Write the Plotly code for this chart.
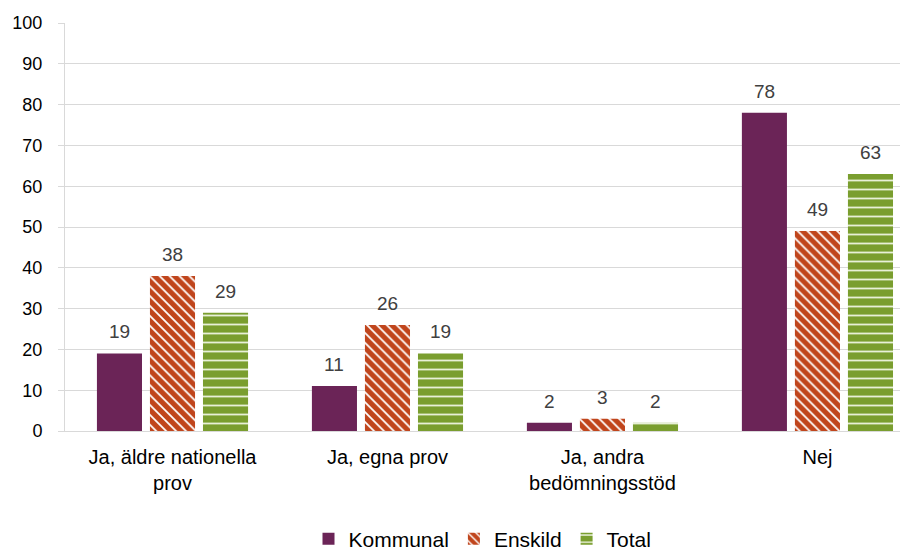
import plotly.graph_objects as go

categories = ["Ja, äldre nationella<br>prov", "Ja, egna prov", "Ja, andra<br>bedömningsstöd", "Nej"]
kommunal = [19, 11, 2, 78]
enskild = [38, 26, 3, 49]
total = [29, 19, 2, 63]
y_ticks = [0, 10, 20, 30, 40, 50, 60, 70, 80, 90, 100]

FONT = "Liberation Sans, Arial, sans-serif"
W, H = 913, 550
ML, MR, MT, MB = 65, 13, 23, 119
BARGAP, GROUPGAP = 0.26, 0.15
X_RANGE = [-0.5, 3.384]

fig = go.Figure()
series = [
    ("Kommunal", kommunal, dict(color="#6B2457", line=dict(width=0))),
    ("Enskild", enskild, dict(color="#C0451C", line=dict(width=0),
                              pattern=dict(shape="\\", fgcolor="#FFFFFF", bgcolor="#C0451C",
                                           size=7, solidity=0.25, fillmode="replace"))),
    ("Total", total, dict(color="#7A9E2F", line=dict(width=0),
                          pattern=dict(shape="-", fgcolor="#E8F0D8", bgcolor="#7A9E2F",
                                       size=9, solidity=0.2, fillmode="replace"))),
]
for name, vals, marker in series:
    fig.add_trace(go.Bar(name=name, x=categories, y=vals, marker=marker))

# value labels above bars, offset to each bar's slot within the group
plot_w = W - ML - MR
unit_px = plot_w / (X_RANGE[1] - X_RANGE[0])
slot = unit_px * (1 - BARGAP) / len(series)
for si, (name, vals, _) in enumerate(series):
    off = (si - (len(series) - 1) / 2) * slot
    for ci, v in enumerate(vals):
        fig.add_annotation(x=ci, y=v, text=str(v), showarrow=False,
                           xref="x", yref="y", xshift=off, yshift=9, yanchor="bottom",
                           font=dict(color="#404040", size=19, family=FONT))

fig.update_layout(
    width=W, height=H,
    margin=dict(l=ML, r=MR, t=MT, b=MB, autoexpand=False),
    paper_bgcolor="white", plot_bgcolor="white",
    barmode="group", bargap=BARGAP, bargroupgap=GROUPGAP,
    font=dict(family=FONT, size=19, color="#000000"),
    legend=dict(orientation="h", x=0.5, xanchor="center",
                yref="container", y=(H - 539) / H, yanchor="middle",
                font=dict(size=21, color="#000000"), traceorder="normal"),
    showlegend=True,
)
fig.update_yaxes(
    range=[0, 100], tickvals=y_ticks, showgrid=True, gridcolor="#D9D9D9", gridwidth=1,
    showline=True, linecolor="#D9D9D9", linewidth=1,
    ticks="outside", ticklen=6, tickcolor="#D9D9D9", ticklabelstandoff=12,
    tickfont=dict(size=18, color="#000000"), zeroline=False, automargin=False,
)
fig.update_xaxes(
    range=X_RANGE,
    showline=True, linecolor="#D9D9D9", linewidth=1, ticks="", ticklabelstandoff=8,
    tickfont=dict(size=20, color="#000000"), showgrid=False, automargin=False,
)

fig.write_html("out.html", config={"displayModeBar": False},
               post_script="document.body.style.margin='0';")
